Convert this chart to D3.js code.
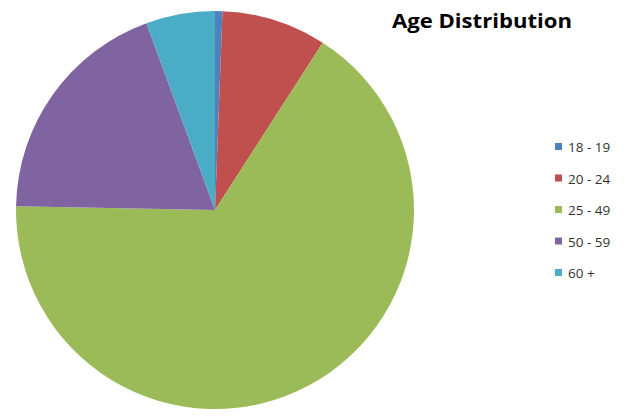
<!DOCTYPE html>
<html>
<head>
<meta charset="utf-8">
<script src="https://cdn.jsdelivr.net/npm/d3@7"></script>
<style>
  html, body { margin: 0; padding: 0; background: #fff; }
  svg { display: block; }
</style>
</head>
<body>
<svg id="chart" width="626" height="420"></svg>
<script>
const categories = ["18 - 19", "20 - 24", "25 - 49", "50 - 59", "60 +"];
const values = [0.6, 8.5, 66.2, 19.1, 5.6];
const colors = ["#4F81BD", "#C0504D", "#9BBB59", "#8064A2", "#4BACC6"];
const title = "Age Distribution";

const svg = d3.select("#chart");
const cx = 215, cy = 210, r = 199;

const data = categories.map((c, i) => ({ cat: c, value: values[i] }));
const color = d3.scaleOrdinal().domain(categories).range(colors);

const pie = d3.pie().sort(null).value(d => d.value).startAngle(0).endAngle(2 * Math.PI);
const arc = d3.arc().innerRadius(0).outerRadius(r);

svg.append("g")
  .attr("transform", `translate(${cx},${cy})`)
  .selectAll("path")
  .data(pie(data))
  .join("path")
  .attr("d", arc)
  .attr("fill", d => color(d.data.cat));

svg.append("text")
  .attr("x", 392)
  .attr("y", 28)
  .attr("font-family", "'Open Sans', 'Liberation Sans', sans-serif")
  .attr("font-weight", "bold")
  .attr("font-size", 19)
  .attr("fill", "#000")
  .attr("textLength", 180)
  .attr("lengthAdjust", "spacingAndGlyphs")
  .text(title);

const legendY = d3.scalePoint().domain(categories).range([147, 273]);
const lg = svg.append("g");
const items = lg.selectAll("g").data(categories).join("g")
  .attr("transform", d => `translate(555,${legendY(d)})`);
items.append("rect")
  .attr("x", 0).attr("y", -4).attr("width", 7).attr("height", 7)
  .attr("fill", d => color(d));
items.append("text")
  .attr("x", 13).attr("y", 5)
  .attr("font-family", "'Open Sans', 'Liberation Sans', sans-serif")
  .attr("font-size", 13.5)
  .attr("fill", "#333")
  .text(d => d);
</script>
</body>
</html>
